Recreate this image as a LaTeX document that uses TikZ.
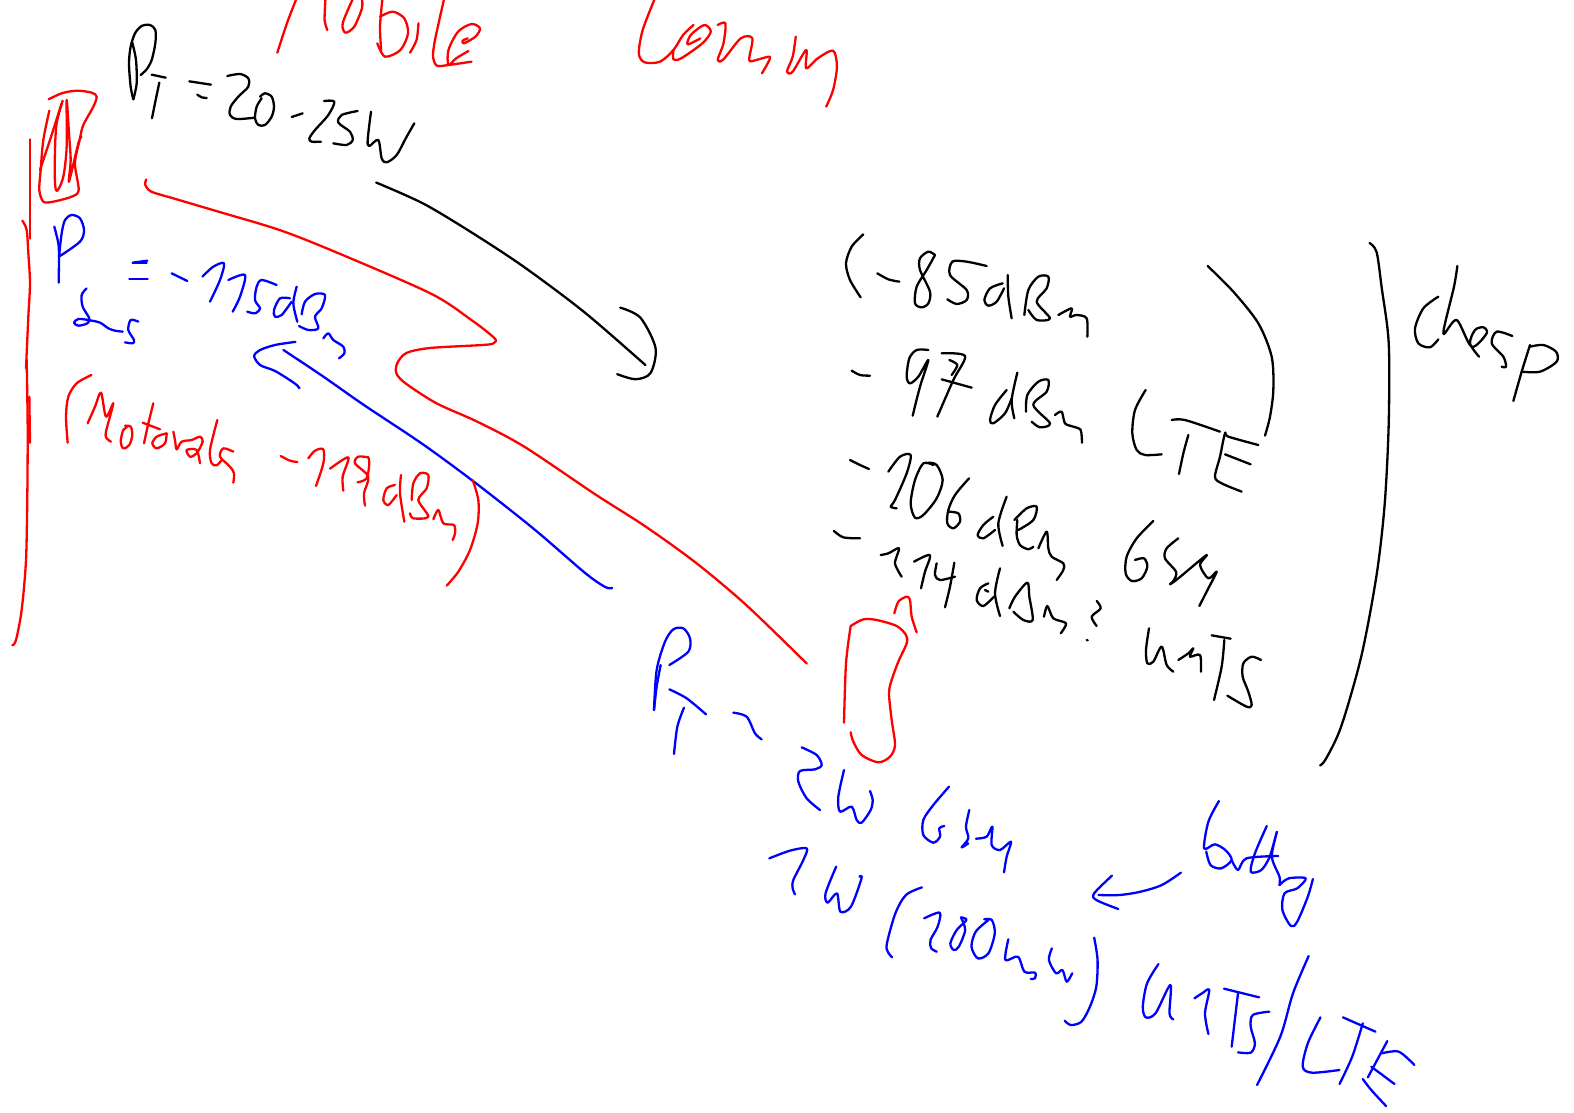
\documentclass[tikz,border=0pt]{standalone}
\newcommand\st[1]{\draw plot[smooth,tension=0.5] coordinates {#1};}
\tikzset{
  zm/.style n args={4}{shift={(#1,#2)},x=#3pt,y=-#4pt},
  ink/.style={line width=2.3pt,line cap=round,line join=round,draw=#1}
}
\begin{document}
\begin{tikzpicture}[x=1pt,y=-1pt]
\useasboundingbox (0,0) rectangle (1574,1112);
\clip (0,0) rectangle (1574,1112);
%---------- zoom 1 region
\begin{scope}[zm={0}{0}{0.33333}{0.33333},ink=black]
\st{(400,298)(392,260)(387,190)(392,140)(405,100)(425,78)(450,75)(466,90)(466,130)(455,180)(440,208)(422,225)}
\st{(397,128)(408,180)(410,250)(400,298)}
\st{(455,224)(497,233)}
\st{(478,248)(467,300)(456,355)}
\st{(568,244)(633,254)}
\st{(592,284)(605,292)(620,294)}
\st{(682,228)(720,222)(745,235)(745,260)(715,290)(692,320)(690,345)(710,357)(765,353)}
\st{(785,295)(770,320)(765,355)(775,375)(795,375)(815,350)(822,320)(815,290)(795,280)(780,290)}
\st{(875,351)(908,340)}
\st{(972,303)(1003,305)(985,345)(945,390)(928,415)(935,425)(963,425)}
\st{(1073,333)(1025,345)(1015,368)(1050,395)(1058,420)(1040,435)(1000,430)}
\st{(1113,335)(1103,420)(1108,438)(1135,420)(1145,475)(1160,487)(1190,465)(1220,410)(1243,370)}
\end{scope}
\begin{scope}[zm={0}{0}{1.0085}{1.0085},ink=black]
\st{(373,181)(420,202)(470,232)(520,265)(580,310)(640,362)}
\st{(615,305)(635,315)(650,345)(645,370)(630,376)(612,371)}
\end{scope}
\begin{scope}[zm={0}{0}{0.33333}{0.33333},ink=red]
\st{(146,298)(185,280)(230,272)(275,278)(290,290)(280,320)(250,375)(240,415)(225,490)(236,570)(215,590)(160,605)(130,605)(118,570)(122,510)(130,420)(148,332)}
\st{(188,302)(170,370)(165,450)(165,550)(172,572)(190,530)(200,440)(200,300)(207,400)(212,480)(207,545)(235,430)(245,410)}
\st{(120,510)(150,420)(185,310)}
\st{(90,418)(90,716)}
\st{(67,662)(80,690)(85,760)(90,850)(85,950)(78,1105)}
\end{scope}
\begin{scope}[zm={0}{0}{1.0085}{1.0085},ink=red]
\st{(145,178)(144,183)(150,190)(173,197)(217,210)(277,228)(333,250)(427,291)(467,317)(490,335)(490,340)(480,342)(427,345)(403,350)(394,360)(393,370)(402,380)(433,400)(473,418)(520,443)(590,490)(640,522)(690,558)(740,600)(800,658)}
\end{scope}
\begin{scope}[zm={0}{0}{0.33333}{0.33333},ink=blue]
\st{(163,680)(175,730)(177,770)(176,848)}
\st{(177,770)(240,725)(252,690)(240,655)(215,645)(195,660)(185,700)(177,770)}
\st{(260,865)(245,885)(248,920)(268,955)(262,970)(235,977)(222,968)(235,957)(265,960)(300,968)(325,985)(345,992)(368,995)}
\st{(415,965)(392,960)(385,990)(402,1020)(398,1030)(375,1027)}
\st{(398,788)(442,782)}
\st{(398,790)(440,790)}
\st{(388,838)(443,838)}
\st{(515,820)(562,843)}
\st{(607,830)(640,800)(672,790)(660,840)(630,905)}
\st{(685,840)(735,825)(720,890)(698,935)}
\st{(830,855)(785,840)(770,860)(765,900)(780,925)(765,940)(742,935)}
\st{(890,860)(880,910)(892,965)}
\st{(870,895)(840,895)(822,930)(825,950)(845,945)(875,905)}
\st{(905,943)(915,905)(945,882)(975,885)(965,925)(945,950)(955,985)(925,990)(897,978)}
\st{(970,1015)(985,1000)(1000,1020)(1030,1040)(1033,1060)(1017,1075)}
\end{scope}
\begin{scope}[zm={0}{0}{1.0085}{1.0085},ink=blue]
\st{(293,339)(273,342)(258,347)(252,353)(258,362)(273,368)(292,380)(297,385)}
\st{(281,347)(320,373)(360,401)(420,441)(473,480)(530,525)(580,568)(600,582)(607,583)}
\end{scope}
%---------- zoom 2 region
\begin{scope}[zm={0}{360}{0.33333}{0.33333},ink=red]
\st{(80,0)(83,200)(82,400)(78,600)(65,750)(48,840)(37,856)}
\st{(88,110)(90,248)}
\st{(274,45)(230,70)(205,110)(198,170)(203,248)}
\st{(263,190)(285,140)(303,98)(318,170)(340,130)(318,215)(320,235)(333,245)}
\st{(385,198)(370,210)(362,245)(370,265)(388,255)(397,225)(392,200)(375,197)}
\st{(460,130)(445,190)(432,250)}
\st{(428,188)(480,208)}
\st{(500,220)(470,230)(457,250)(470,265)(495,250)(500,220)}
\st{(520,215)(525,240)(530,268)(545,245)(575,240)(600,230)(608,245)(590,280)(570,290)(560,270)(590,270)(600,310)}
\st{(652,180)(630,270)(635,310)(650,316)(665,300)}
\st{(700,275)(670,265)(660,290)(690,320)(702,340)(700,368)}
\st{(842,288)(870,302)(892,306)}
\st{(925,295)(945,272)(970,268)(970,310)(948,378)}
\st{(990,326)(1045,292)(1028,350)(1030,392)}
\st{(1105,292)(1075,290)(1065,310)(1105,350)(1092,400)(1095,437)}
\st{(1073,367)(1100,355)(1108,310)(1105,292)}
\st{(1203,345)(1200,400)(1213,485)}
\st{(1185,375)(1160,385)(1150,420)(1165,435)(1190,405)}
\st{(1235,420)(1240,370)(1260,340)(1285,345)(1280,385)(1255,420)(1285,470)(1240,475)(1230,460)}
\st{(1300,478)(1315,450)(1330,490)(1362,495)(1365,520)(1358,540)}
\st{(1418,360)(1435,420)(1433,490)(1410,570)(1375,635)(1340,677)}
\end{scope}
%---------- zoom 3 region
\begin{scope}[zm={820}{220}{0.33333}{0.33333},ink=black]
\st{(130,43)(95,80)(78,130)(90,180)(122,232)}
\st{(172,160)(205,178)(238,185)}
\st{(345,105)(325,95)(300,115)(300,150)(330,215)(325,250)(305,262)(285,250)(290,200)(320,150)(345,105)}
\st{(500,138)(440,125)(397,125)(390,165)(440,210)(440,240)(410,252)(382,238)}
\st{(563,165)(565,230)(575,295)}
\st{(548,190)(510,205)(493,240)(505,257)(530,245)(552,205)}
\st{(613,285)(625,210)(655,170)(685,170)(680,205)(650,245)(690,295)(650,300)(625,270)}
\st{(715,285)(755,265)(750,290)(770,285)(800,295)(802,350)}
\st{(95,452)(120,465)(150,467)}
\st{(325,390)(290,390)(268,415)(260,470)(270,490)(295,470)(325,420)(300,500)(278,587)}
\st{(365,400)(435,408)(400,480)(352,590)}
\st{(388,420)(412,435)(395,465)}
\st{(365,478)(455,503)}
\st{(592,458)(575,540)(583,595)}
\st{(560,510)(525,555)(510,600)(520,610)(555,580)(575,535)}
\st{(618,575)(622,525)(655,485)(685,480)(680,515)(640,555)(690,610)(660,622)(635,605)}
\st{(705,585)(725,575)(735,610)(760,620)(782,630)(786,668)}
\st{(1163,138)(1240,215)(1315,310)(1355,410)(1360,510)(1350,590)(1335,647)}
\st{(977,510)(945,570)(937,640)(950,690)(975,705)(1025,703)}
\st{(1055,600)(1095,600)(1200,635)}
\st{(1105,645)(1090,700)(1077,762)}
\st{(1315,675)(1225,650)(1215,640)(1200,710)(1185,770)(1205,790)(1265,815)}
\st{(1215,703)(1292,733)}
\st{(90,720)(120,735)(147,747)}
\st{(205,755)(240,710)(272,705)(260,760)(225,840)(212,860)(230,865)}
\st{(340,735)(310,730)(285,780)(272,850)(285,893)(310,885)(350,835)(368,780)(350,735)(325,728)}
\end{scope}
%---------- zoom 4 region
\begin{scope}[zm={820}{500}{0.33333}{0.33333},ink=black]
\st{(447,-65)(405,-15)(385,30)(382,70)(400,85)(420,65)(415,40)(385,35)}
\st{(560,-10)(535,70)(548,138)}
\st{(520,50)(490,75)(473,105)(490,115)(525,90)}
\st{(592,60)(590,105)(600,135)(625,148)(640,140)}
\st{(583,60)(620,25)(650,20)(640,60)(595,90)}
\st{(655,145)(680,95)(685,145)(695,170)(730,190)(730,210)(710,240)}
\st{(42,93)(70,112)(120,115)}
\st{(182,165)(205,160)(237,145)(225,190)(245,230)}
\st{(282,185)(330,165)(315,215)(303,265)}
\st{(350,190)(345,225)(360,240)(405,230)}
\st{(403,188)(390,260)(375,322)}
\st{(540,205)(525,280)(540,348)}
\st{(505,250)(480,265)(470,300)(490,318)(522,290)}
\st{(495,270)(505,275)}
\st{(568,325)(585,290)(622,248)(628,290)(638,360)(610,360)(580,335)}
\st{(672,350)(682,318)(700,355)(738,370)(722,400)}
\st{(830,303)(842,325)(815,350)(830,378)}
\st{(800,420)(803,421)}
\st{(1000,63)(950,115)(920,170)(917,220)(935,243)(965,235)(982,200)(972,175)(945,180)}
\st{(1075,115)(1040,145)(1035,175)(1068,215)(1062,240)(1050,253)(1075,235)(1160,165)(1140,195)(1165,235)(1190,215)(1165,265)(1138,318)}
\st{(987,385)(978,450)(982,490)(1000,485)(1025,440)(1040,495)(1060,515)}
\st{(1075,480)(1105,460)(1120,445)(1110,470)(1140,465)(1143,515)}
\st{(1175,406)(1232,416)}
\st{(1213,420)(1205,500)(1182,600)}
\st{(1323,480)(1295,470)(1270,490)(1268,530)(1285,575)(1295,615)(1280,620)(1222,587)}
\end{scope}
\begin{scope}[zm={820}{500}{0.33333}{0.33333},ink=red]
\st{(92,378)(130,358)(170,360)(230,378)(258,405)(260,430)(235,485)(215,540)(207,580)(215,660)(225,735)(210,770)(175,787)(125,765)(100,725)(92,697)}
\st{(92,378)(78,490)(72,668)}
\st{(223,340)(235,305)(260,290)(270,300)(275,350)(290,397)}
\end{scope}
%---------- big black bracket
\begin{scope}[zm={0}{0}{1.0085}{1.0085},ink=black]
\st{(1358,241)(1365,250)(1370,285)(1377,340)(1377,420)(1373,500)(1365,570)(1350,650)(1330,720)(1315,752)(1309,759)}
\end{scope}
%---------- zoom 5 region
\begin{scope}[zm={640}{610}{0.33333}{0.33333},ink=blue]
\st{(42,300)(50,180)(75,95)(100,58)(130,55)(150,85)(145,125)(88,165)}
\st{(62,165)(50,230)(42,300)}
\st{(88,238)(140,265)(198,313)}
\st{(132,293)(112,350)(102,432)}
\st{(280,308)(320,320)(345,370)(365,388)}
\st{(485,412)(530,435)(545,465)(525,478)(480,483)(475,515)(500,565)(540,600)}
\st{(612,480)(595,560)(600,605)(635,590)(650,630)(665,638)(692,600)(698,570)(690,543)}
\st{(927,530)(880,585)(850,630)(850,675)(880,698)(900,680)(898,655)(913,648)}
\st{(988,600)(978,650)(985,685)(965,712)(985,700)}
\st{(1008,686)(1040,680)(1057,650)(1055,705)(1080,720)(1113,695)(1100,740)(1092,787)}
\st{(388,745)(450,722)(500,715)(490,750)(460,810)(458,835)(465,853)}
\end{scope}
%---------- zoom 6 region
\begin{scope}[zm={760}{780}{0.42301}{0.33333},ink=blue]
\st{(180,260)(155,340)(160,368)(182,340)(190,395)(215,380)(240,295)(235,290)}
\st{(383,322)(345,345)(320,400)(300,490)(302,515)(312,532)}
\st{(388,415)(425,398)(420,440)(403,480)(405,505)(418,515)}
\st{(475,412)(488,420)(465,450)(450,490)(458,510)(470,500)(485,450)(475,412)}
\st{(540,420)(510,455)(500,500)(515,535)(540,520)(555,460)(548,420)(530,418)}
\st{(587,478)(580,540)(610,530)(625,575)(650,578)(650,595)(640,597)}
\st{(690,505)(683,540)(700,580)(715,570)(725,605)(738,580)}
\st{(790,473)(798,540)(795,620)(780,680)(760,725)(735,735)(720,722)}
\st{(995,278)(950,315)(900,335)(850,345)(800,345)}
\st{(832,287)(790,340)(795,360)(847,387)}
\st{(1085,63)(1060,125)(1050,205)(1075,193)(1100,210)(1115,240)(1090,265)(1065,255)(1055,215)}
\st{(1115,240)(1130,270)(1150,235)(1225,228)}
\st{(1198,138)(1170,220)(1160,275)(1185,270)(1205,230)(1222,155)(1210,230)(1228,290)(1228,315)}
\st{(1228,315)(1250,295)(1290,295)(1270,325)(1240,340)(1235,390)(1255,438)(1270,425)(1295,350)(1307,297)}
\st{(942,552)(915,610)(905,680)(912,712)(935,700)(970,615)(968,700)(977,718)}
\st{(1027,655)(1045,640)(1062,630)(1052,700)(1060,762)}
\st{(1097,626)(1180,652)}
\st{(1130,640)(1115,800)}
\st{(1204,695)(1165,705)(1160,740)(1170,790)(1160,818)(1130,817)}
\st{(1297,528)(1260,640)(1230,770)(1175,915)}
\st{(1325,712)(1295,790)(1283,860)(1305,878)(1370,870)}
\st{(1378,712)(1455,755)}
\st{(1425,730)(1400,830)(1370,912)}
\st{(1483,783)(1437,892)}
\st{(1470,820)(1510,815)(1547,855)}
\st{(1445,860)(1500,912)}
\st{(1425,897)(1445,930)(1480,978)}
\end{scope}
%---------- zoom 7 region
\begin{scope}[zm={260}{0}{0.38462}{0.33333},ink=red]
\st{(95,-5)(70,70)(45,158)}
\st{(170,0)(168,60)(175,90)}
\st{(240,0)(215,70)(222,98)(245,80)(265,25)(265,-10)}
\st{(318,0)(312,80)(315,150)}
\st{(312,50)(345,35)(375,55)(385,100)(365,150)(325,170)(305,130)}
\st{(412,70)(407,120)(390,158)}
\st{(478,0)(455,120)(450,170)(460,197)(490,195)(550,185)}
\st{(542,153)(510,175)(490,195)(490,150)(515,95)(550,72)(572,85)(560,110)(530,130)(527,122)(540,115)}
\st{(1025,0)(995,90)(985,160)(1000,187)(1040,185)(1075,150)(1100,105)(1127,75)}
\st{(1075,150)(1075,178)(1095,175)(1150,130)(1172,95)(1155,75)(1120,105)(1112,133)(1145,115)}
\st{(1190,75)(1210,70)(1205,130)(1190,180)(1205,178)(1250,115)(1280,115)(1272,180)(1290,180)(1325,170)(1320,190)(1305,220)}
\st{(1393,110)(1385,170)(1370,215)(1385,215)(1420,150)(1420,205)(1450,175)(1490,152)(1500,200)(1490,270)(1472,320)}
\end{scope}
%---------- zoom 8 region
\begin{scope}[zm={1380}{250}{0.33333}{0.33333},ink=black]
\st{(232,48)(222,110)(190,250)(230,210)(275,290)(320,250)(310,232)(285,240)(270,280)(297,320)}
\st{(175,140)(130,175)(105,235)(115,280)(150,292)(175,268)}
\st{(397,258)(350,245)(335,280)(370,320)(378,350)(365,350)}
\st{(400,453)(425,365)(450,285)}
\st{(425,365)(480,365)(530,335)(528,305)(490,285)(450,290)}
\end{scope}
\end{tikzpicture}
\end{document}
